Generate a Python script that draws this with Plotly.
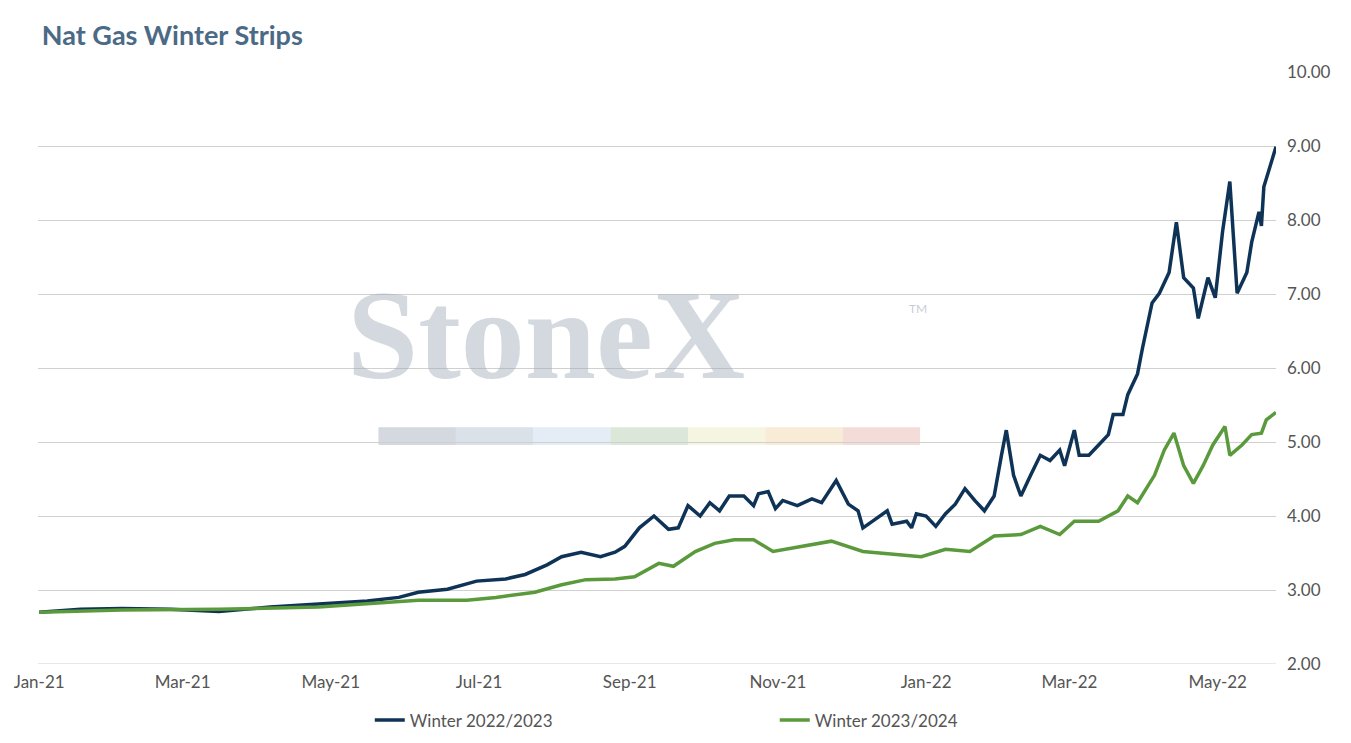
import pandas as pd
import plotly.graph_objects as go

# days since 2021-01-01 and settlement values
navy_days = [0, 17, 34, 54, 74, 95, 115, 135, 148, 156, 168, 180, 192, 200, 209, 215, 223, 231, 237, 241,
             247, 253, 259, 263, 267, 272, 276, 280, 284, 290, 294, 296, 300, 303, 306, 312, 318, 322, 328,
             333, 337, 339, 343, 349, 351, 357, 359, 361, 365, 369, 373, 377, 381, 385, 389, 393, 396, 398,
             401, 404, 408, 412, 416, 420, 422, 426, 428, 432, 436, 440, 442, 446, 448, 452, 454, 458, 461,
             465, 468, 471, 475, 477, 481, 484, 487, 490, 493, 497, 499, 502, 503, 504, 509]
navy_vals = [2.70, 2.74, 2.75, 2.74, 2.71, 2.77, 2.81, 2.85, 2.90, 2.97, 3.01, 3.12, 3.15, 3.21, 3.34, 3.45,
             3.51, 3.45, 3.51, 3.59, 3.84, 4.00, 3.82, 3.84, 4.14, 4.00, 4.18, 4.07, 4.27, 4.27, 4.14, 4.30,
             4.33, 4.10, 4.21, 4.14, 4.23, 4.18, 4.48, 4.16, 4.07, 3.84, 3.93, 4.07, 3.89, 3.93, 3.84, 4.03,
             4.00, 3.86, 4.03, 4.16, 4.37, 4.21, 4.07, 4.27, 4.82, 5.16, 4.55, 4.27, 4.55, 4.82, 4.75, 4.89,
             4.68, 5.16, 4.82, 4.82, 4.96, 5.10, 5.37, 5.37, 5.64, 5.92, 6.26, 6.88, 7.01, 7.29, 7.97, 7.22,
             7.08, 6.67, 7.22, 6.95, 7.84, 8.52, 7.01, 7.29, 7.70, 8.11, 7.92, 8.45, 8.99]

green_days = [0, 34, 74, 115, 156, 176, 188, 204, 215, 225, 237, 245, 255, 261, 270, 278, 286, 294, 302, 314,
              326, 339, 351, 363, 373, 383, 393, 404, 412, 420, 426, 436, 444, 448, 452, 459, 463, 467, 471,
              475, 479, 483, 488, 490, 495, 499, 503, 505, 509]
green_vals = [2.70, 2.73, 2.74, 2.77, 2.86, 2.86, 2.90, 2.97, 3.07, 3.14, 3.15, 3.18, 3.36, 3.32, 3.52, 3.63,
              3.68, 3.68, 3.52, 3.59, 3.66, 3.52, 3.49, 3.45, 3.55, 3.52, 3.73, 3.75, 3.86, 3.75, 3.93, 3.93,
              4.07, 4.27, 4.18, 4.55, 4.89, 5.12, 4.68, 4.44, 4.68, 4.96, 5.21, 4.82, 4.96, 5.10, 5.12, 5.30, 5.40]

start = pd.Timestamp("2021-01-01")
navy_dates = [start + pd.Timedelta(days=d) for d in navy_days]
green_dates = [start + pd.Timedelta(days=d) for d in green_days]

NAVY = "#0e3356"
GREEN = "#5a9a3c"
FONT = "Lato, sans-serif"

fig = go.Figure()
fig.add_trace(go.Scatter(x=navy_dates, y=navy_vals, mode="lines", name="Winter 2022/2023",
                         line=dict(color=NAVY, width=3.5)))
fig.add_trace(go.Scatter(x=green_dates, y=green_vals, mode="lines", name="Winter 2023/2024",
                         line=dict(color=GREEN, width=3.5)))

# StoneX watermark
fig.add_annotation(text="<b>StoneX</b>", xref="paper", yref="paper", x=0.41, y=0.555, showarrow=False,
                   font=dict(family="Liberation Serif, serif", size=128, color="rgba(160,170,185,0.45)"))
fig.add_annotation(text="TM", xref="paper", yref="paper", x=0.72, y=0.60, showarrow=False,
                   font=dict(family=FONT, size=12, color="rgba(160,170,185,0.6)"))
bar_cols = ["#a9b2bf", "#b6c4d4", "#c9dcec", "#b7cfb3", "#ecebc4", "#f3d9b0", "#e9b9b3"]
for i, c in enumerate(bar_cols):
    fig.add_shape(type="rect", xref="paper", yref="paper",
                  x0=0.275 + i * 0.0625, x1=0.275 + (i + 1) * 0.0625, y0=0.37, y1=0.40,
                  fillcolor=c, opacity=0.5, line=dict(width=0), layer="below")

fig.update_layout(
    width=1351, height=743,
    margin=dict(l=30, r=83, t=64, b=82),
    plot_bgcolor="white", paper_bgcolor="white",
    font=dict(family=FONT, size=17, color="#555555"),
    title=dict(text="<b>Nat Gas Winter Strips</b>", x=0.025, y=0.975, yanchor="top",
               font=dict(family=FONT, size=27, color="#4b6a85")),
    legend=dict(orientation="h", x=0.268, xanchor="left", y=-0.065, yanchor="top",
                font=dict(size=17, color="#555555"), entrywidth=360, tracegroupgap=0),
    showlegend=True,
)
fig.update_xaxes(range=[pd.Timestamp("2020-12-31 12:00"), pd.Timestamp("2022-05-25")],
                 tickvals=pd.date_range("2021-01-01", "2022-05-01", freq="2MS"),
                 tickformat="%b-%y", showgrid=False, showline=False, ticks="", ticklabelstandoff=6,
                 ticklabeloverflow="allow", automargin=False)
fig.update_yaxes(range=[2, 10], dtick=1, tickformat=".2f", side="right", showgrid=True,
                 gridcolor="#d0d0d0", gridwidth=1, zeroline=False, ticklabelstandoff=10)
fig.add_shape(type="line", xref="paper", yref="y", x0=0, x1=1, y0=2, y1=2, line=dict(color="#d0d0d0", width=1))

fig.write_html("out.html")
